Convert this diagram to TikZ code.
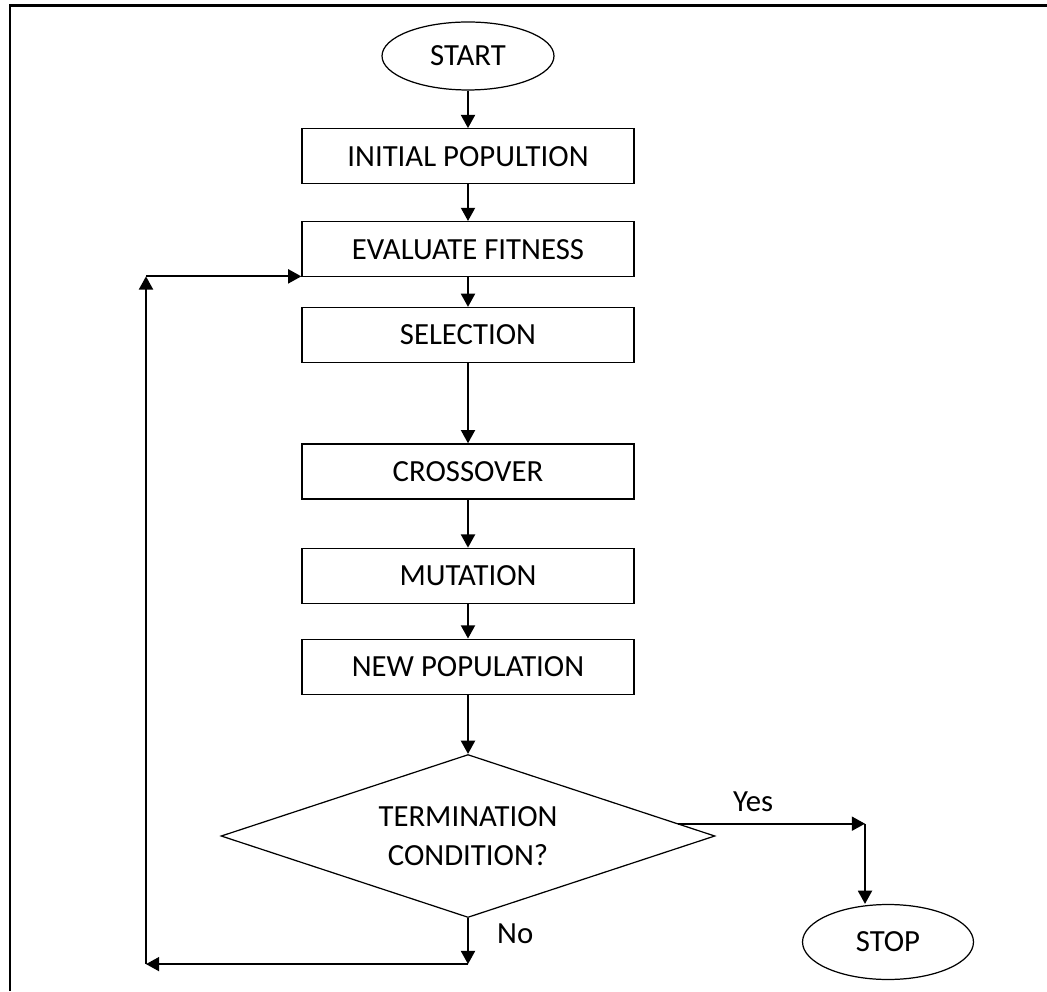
\documentclass[tikz,border=0pt]{standalone}
\usepackage{fontspec}
\setmainfont{Carlito}
\usetikzlibrary{arrows.meta, positioning, calc, shapes.geometric}

\begin{document}
\begin{tikzpicture}[x=0.02cm, y=0.02cm,
                block/.style={rectangle, draw, minimum height=1.1cm, minimum width=6.64cm, align=center, font=\fontsize{17.5}{21}\selectfont, line width=0.8pt},
                term/.style={ellipse, draw, inner sep=0pt, font=\fontsize{17.5}{21}\selectfont, line width=0.7pt},
                cond/.style={diamond, draw, aspect=3.07, inner sep=0pt, minimum width=9.88cm, minimum height=3.26cm, align=center, font=\fontsize{17.5}{22}\selectfont, line width=0.7pt},
                lbl/.style={font=\fontsize{17.5}{21}\selectfont},
                arrow/.style={-{Triangle[length=7.5pt, width=8pt]}, line width=1pt}
            ]
                \useasboundingbox (0,0) rectangle (1047,991);
                \draw[line width=1.7pt] (10,0) -- (10,985) -- (1047,985);

                \node[term, minimum width=3.44cm, minimum height=1.36cm] (start) at (468,935) {START};
                \node[block, below=0.75cm of start] (init) {INITIAL POPULTION};
                \node[block, below=0.73cm of init] (eval) {EVALUATE FITNESS};
                \node[block, below=0.59cm of eval] (sel) {SELECTION};
                \node[block, below=1.60cm of sel] (cross) {CROSSOVER};
                \node[block, below=0.96cm of cross] (mut) {MUTATION};
                \node[block, below=0.69cm of mut] (newpop) {NEW POPULATION};
                \node[cond, below=1.18cm of newpop] (term) {TERMINATION\\CONDITION?};
                \node[term, minimum width=3.42cm, minimum height=1.5cm] (stop) at (888,49) {STOP};

                \coordinate (ys) at ($(term.east)!0.15!(term.north)$);
                \coordinate (yc) at ($(ys -| stop.north)+(-23,0)$);
                \coordinate (nob) at ($(term.south)+(0,-46)$);
                \coordinate (lb) at ($(nob)+(-322,0)$);
                \coordinate (lt) at ($(lb |- eval.south)+(0,1)$);

                \draw[arrow] (start) -- (init);
                \draw[arrow] (init) -- (eval);
                \draw[arrow] (eval) -- (sel);
                \draw[arrow] (sel) -- (cross);
                \draw[arrow] (cross) -- (mut);
                \draw[arrow] (mut) -- (newpop);
                \draw[arrow] (newpop) -- (term);
                % yes branch
                \draw[arrow] (ys) -- (yc) node[lbl, pos=0.4, above=3pt] {Yes};
                \draw[arrow] (yc) -- (yc |- stop.north);
                % no branch, back to fitness
                \draw[arrow] (term.south) -- (nob) node[lbl, pos=0.34, right=0.45cm] {No};
                \draw[arrow] (nob) -- (lb);
                \draw[arrow] (lb) -- (lt);
                \draw[arrow] (lt) -- (lt -| eval.west);
            \end{tikzpicture}
\end{document}
